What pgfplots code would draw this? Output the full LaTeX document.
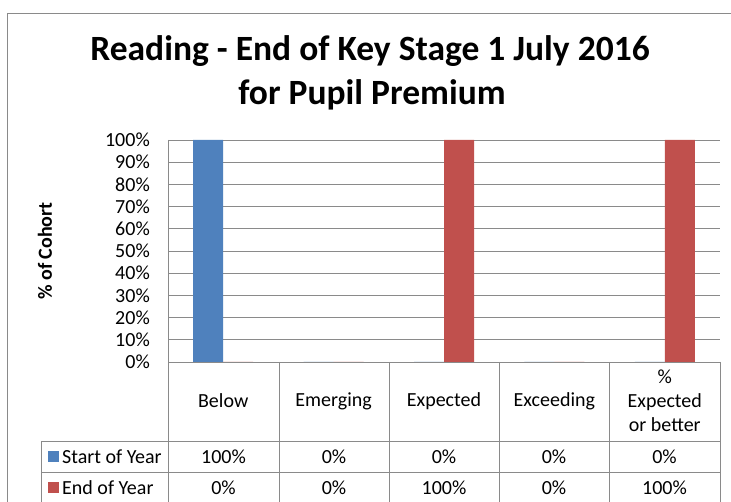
\documentclass[border=0pt]{standalone}
\usepackage{fontspec}
\setmainfont{Carlito}
\usepackage{pgfplots}
\pgfplotsset{compat=1.18}
\definecolor{xlblue}{HTML}{4F81BD}
\definecolor{xlred}{HTML}{C0504D}
\definecolor{gridgray}{HTML}{8A8A8A}
\newcommand{\body}{\fontsize{20}{24}\selectfont}
\begin{document}
\begin{tikzpicture}[x=1pt,y=1pt]
\useasboundingbox (0,0) rectangle (731,-502);
\fill[white] (0,0) rectangle (731,-502);
\draw[gridgray, line width=1pt] (7,-502) -- (7,-13.5) -- (731,-13.5);
\node[anchor=base, inner sep=0pt, font=\fontsize{35.5}{42}\selectfont\bfseries] at (370,-61) {Reading - End of Key Stage 1 July 2016};
\node[anchor=base, inner sep=0pt, font=\fontsize{35.5}{42}\selectfont\bfseries] at (372,-105) {for Pupil Premium};
\node[rotate=90, inner sep=0pt, font=\body\bfseries] at (45,-251) {\% of Cohort};
\begin{axis}[
  at={(168pt,-362pt)}, anchor=south west,
  scale only axis, width=552pt, height=222pt,
  xmin=-0.5, xmax=4.5, ymin=0, ymax=100,
  ybar=0pt, bar width=30pt,
  xtick={0,1,2,3,4},
  xticklabels={Below,Emerging,Expected,Exceeding,{\%\\Expected\\or better}},
  ytick={0,10,...,100},
  yticklabel={\pgfmathprintnumber{\tick}\%},
  /pgf/number format/assume math mode=true,
  ymajorgrids,
  major grid style={draw=gridgray, line width=0.8pt},
  axis line style={draw=none},
  major tick length=0pt,
  tick style={draw=none},
  yticklabel style={font=\body, anchor=east, inner sep=0pt, xshift=-18pt},
  xticklabel style={font=\body, anchor=center, align=center, inner sep=0pt, yshift=-39pt},
]
\addplot[fill=xlblue, draw=none] coordinates {(0,100) (1,0) (2,0) (3,0) (4,0)};
\addplot[fill=xlred, draw=none] coordinates {(0,0) (1,0) (2,100) (3,0) (4,100)};
\end{axis}
\begin{scope}[gridgray, line width=0.8pt]
\draw (168,-140) -- (168,-502);
\draw (168,-362) -- (720,-362);
\foreach \x in {279,389,499,609,720} \draw (\x,-362) -- (\x,-502);
\draw (41,-441) -- (720,-441);
\draw (41,-472) -- (720,-472);
\draw (41,-441) -- (41,-502);
\end{scope}
\fill[xlblue] (48,-451) rectangle (59,-462);
\fill[xlred] (48,-482) rectangle (59,-493);
\node[anchor=west, inner sep=0pt, font=\body] at (62,-456.5) {Start of Year};
\node[anchor=west, inner sep=0pt, font=\body] at (62,-487.5) {End of Year};
\foreach \x/\a/\b in {223.5/100\%/0\%, 334/0\%/0\%, 444/0\%/100\%, 554/0\%/0\%, 664.5/0\%/100\%} {
  \node[font=\body, inner sep=0pt] at (\x,-456.5) {\a};
  \node[font=\body, inner sep=0pt] at (\x,-487.5) {\b};
}
\end{tikzpicture}
\end{document}
